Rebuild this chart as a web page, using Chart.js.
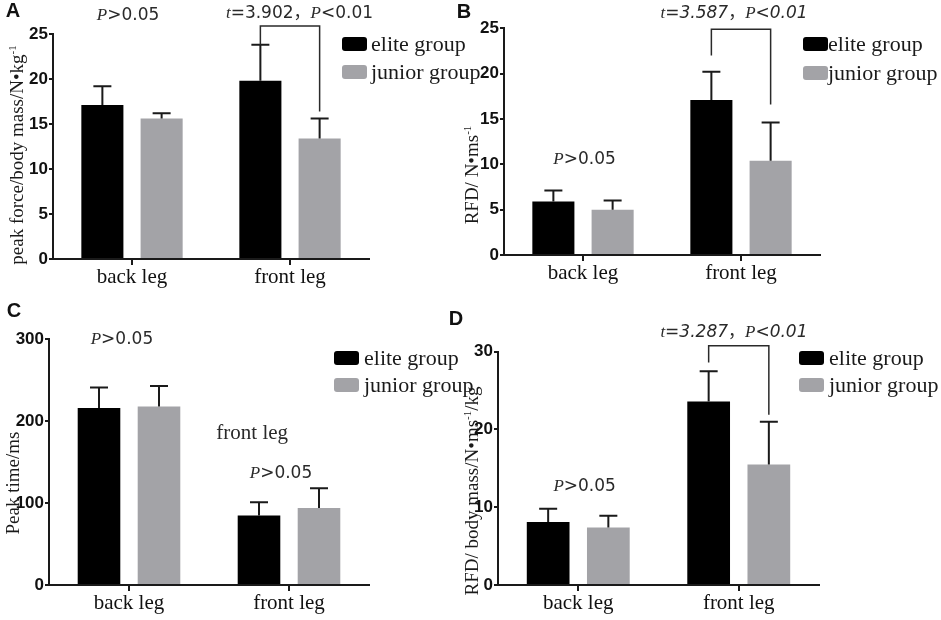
<!DOCTYPE html>
<html lang="en">
<head>
<meta charset="UTF-8">
<title>Elite vs junior group, back and front leg</title>
<script src="https://cdn.jsdelivr.net/npm/chart.js"></script>
<style>
  body { margin: 0; background: #fff; }
  #wrap { position: relative; width: 941px; height: 620px; overflow: hidden; background: #fff; }
  canvas { position: absolute; }
</style>
</head>
<body>
<div id="wrap">
  <canvas id="panelA"></canvas>
  <canvas id="panelB"></canvas>
  <canvas id="panelC"></canvas>
  <canvas id="panelD"></canvas>
</div>
<script>
const legs = ['back leg', 'front leg'];
const groups = ['elite group', 'junior group'];

// A: peak force / body mass
const forceElite = [17.1, 19.8];
const forceEliteSD = [2.1, 4.0];
const forceJunior = [15.6, 13.4];
const forceJuniorSD = [0.6, 2.2];
const forceTicks = [0, 5, 10, 15, 20, 25];

// B: RFD
const rfdElite = [5.9, 17.1];
const rfdEliteSD = [1.2, 3.1];
const rfdJunior = [5.0, 10.4];
const rfdJuniorSD = [1.0, 4.2];
const rfdTicks = [0, 5, 10, 15, 20, 25];

// C: peak time
const timeElite = [216, 85];
const timeEliteSD = [25, 16];
const timeJunior = [218, 94];
const timeJuniorSD = [25, 24];
const timeTicks = [0, 100, 200, 300];

// D: RFD / body mass
const rfdMassElite = [8.1, 23.6];
const rfdMassEliteSD = [1.7, 3.9];
const rfdMassJunior = [7.4, 15.5];
const rfdMassJuniorSD = [1.5, 5.5];
const rfdMassTicks = [0, 10, 20, 30];

const BLACK = '#000000';
const GREY = '#a3a3a7';
const INK = '#1a1a1a';

const FONTS = {
  s: z => `${z}px "Liberation Serif"`,
  i: z => `italic ${z}px "Liberation Serif"`,
  d: z => `${z}px "DejaVu Sans"`,
  di: z => `italic ${z}px "DejaVu Sans"`,
  c: z => `${z}px "Noto Sans CJK SC"`
};

// draws a line made of differently styled pieces, centred on (cx, cy)
function drawRuns(ctx, runs, cx, cy, size) {
  let w = 0;
  const parts = runs.map(([t, k]) => {
    const sup = k === 'sup';
    const z = sup ? Math.round(size * 0.6) : size;
    const font = sup ? FONTS.s(z) : FONTS[k](z);
    ctx.font = font;
    const m = ctx.measureText(t).width;
    w += m;
    return { t, font, m, dy: sup ? -size * 0.4 : 0 };
  });
  let x = cx - w / 2;
  const base = cy + size * 0.33;
  ctx.textAlign = 'left';
  ctx.textBaseline = 'alphabetic';
  parts.forEach(pt => {
    ctx.font = pt.font;
    ctx.fillText(pt.t, x, base + pt.dy);
    x += pt.m;
  });
}

const notSig = [['P', 'i'], ['>0.05', 'd']];

const panels = [
  {
    id: 'A', box: [0, 0, 490, 305], area: [53, 34, 369, 259],
    elite: forceElite, eliteSD: forceEliteSD, junior: forceJunior, juniorSD: forceJuniorSD,
    ticks: forceTicks,
    title: [['peak force/body mass/N•kg', 's'], ['-1', 'sup']], titlePos: [17, 155],
    letter: [13, 11],
    legend: { x: 342, y: 37, gap: 28, textX: 371 },
    bracket: { cat: 1, top: 25.9, left: 23.8, right: 16.4 },
    notes: [
      { x: -0.025, y: 27.2, runs: notSig },
      { x: 1.06, y: 27.4, runs: [['t', 'i'], ['=3.902', 'd'], ['，', 'c'], ['P', 'i'], ['<0.01', 'd']] }
    ]
  },
  {
    id: 'B', box: [445, 0, 496, 305], area: [504, 28.3, 820, 255],
    elite: rfdElite, eliteSD: rfdEliteSD, junior: rfdJunior, juniorSD: rfdJuniorSD,
    ticks: rfdTicks,
    title: [['RFD/ N•ms', 's'], ['-1', 'sup']], titlePos: [472, 175],
    letter: [464, 12],
    legend: { x: 803, y: 37, gap: 29, textX: 828 },
    bracket: { cat: 1, top: 24.9, left: 22, right: 16.6 },
    notes: [
      { x: 0.956, y: 26.7, runs: [['t', 'i'], ['=3.587', 'di'], ['，', 'c'], ['P', 'i'], ['<0.01', 'di']] },
      { x: 0.01, y: 10.7, runs: notSig }
    ]
  },
  {
    id: 'C', box: [0, 295, 490, 325], area: [49, 339.3, 369, 585],
    elite: timeElite, eliteSD: timeEliteSD, junior: timeJunior, juniorSD: timeJuniorSD,
    ticks: timeTicks,
    title: [['Peak time/ms', 's']], titlePos: [13, 483],
    letter: [14, 311],
    legend: { x: 334, y: 351, gap: 27, textX: 364 },
    bracket: null,
    notes: [
      { x: -0.044, y: 301.6, runs: notSig },
      { x: 0.77, y: 186.8, runs: [['front leg', 's']], size: 21 },
      { x: 0.95, y: 138, runs: notSig }
    ]
  },
  {
    id: 'D', box: [440, 300, 501, 320], area: [498, 351.7, 819, 585],
    elite: rfdMassElite, eliteSD: rfdMassEliteSD, junior: rfdMassJunior, juniorSD: rfdMassJuniorSD,
    ticks: rfdMassTicks,
    title: [['RFD/ body mass/N•ms', 's'], ['-1', 'sup'], ['/kg', 's']], titlePos: [472, 491],
    letter: [456, 319],
    legend: { x: 799, y: 351, gap: 27, textX: 829 },
    bracket: { cat: 1, top: 30.75, left: 28.6, right: 21.9 },
    notes: [
      { x: 0.97, y: 32.65, runs: [['t', 'i'], ['=3.287', 'di'], ['，', 'c'], ['P', 'i'], ['<0.01', 'di']] },
      { x: 0.04, y: 12.85, runs: notSig }
    ]
  }
];

function overlay(p) {
  return {
    id: 'overlay' + p.id,
    afterDraw(chart) {
      const ctx = chart.ctx;
      const xs = chart.scales.x, ys = chart.scales.y;
      const ox = p.box[0], oy = p.box[1];
      ctx.save();

      // error bars (mean + SD)
      ctx.strokeStyle = INK;
      ctx.lineWidth = 2;
      [p.eliteSD, p.juniorSD].forEach((sd, di) => {
        chart.getDatasetMeta(di).data.forEach((bar, j) => {
          const v = chart.data.datasets[di].data[j];
          const yt = ys.getPixelForValue(v + sd[j]);
          ctx.beginPath();
          ctx.moveTo(bar.x, bar.y);
          ctx.lineTo(bar.x, yt);
          ctx.moveTo(bar.x - 9, yt);
          ctx.lineTo(bar.x + 9, yt);
          ctx.stroke();
        });
      });

      // significance bracket
      if (p.bracket) {
        const b = p.bracket;
        const x0 = chart.getDatasetMeta(0).data[b.cat].x;
        const x1 = chart.getDatasetMeta(1).data[b.cat].x;
        const yt = ys.getPixelForValue(b.top);
        ctx.lineWidth = 1.5;
        ctx.strokeStyle = '#2a2a2a';
        ctx.beginPath();
        ctx.moveTo(x0, ys.getPixelForValue(b.left));
        ctx.lineTo(x0, yt);
        ctx.lineTo(x1, yt);
        ctx.lineTo(x1, ys.getPixelForValue(b.right));
        ctx.stroke();
      }

      // notes
      ctx.fillStyle = '#2a2a2a';
      p.notes.forEach(n => {
        drawRuns(ctx, n.runs, xs.getPixelForValue(n.x), ys.getPixelForValue(n.y), n.size || 17);
      });

      // legend
      const lg = p.legend;
      [BLACK, GREY].forEach((col, i) => {
        const bx = lg.x - ox, by = lg.y + i * lg.gap - oy;
        ctx.fillStyle = col;
        ctx.beginPath();
        ctx.roundRect(bx, by, 25, 14, 3);
        ctx.fill();
        ctx.fillStyle = INK;
        ctx.font = FONTS.s(22);
        ctx.textAlign = 'left';
        ctx.textBaseline = 'middle';
        ctx.fillText(groups[i], lg.textX - ox, by + 8);
      });

      // y axis title
      ctx.save();
      ctx.translate(p.titlePos[0] - ox, p.titlePos[1] - oy);
      ctx.rotate(-Math.PI / 2);
      ctx.fillStyle = INK;
      drawRuns(ctx, p.title, 0, 0, 19);
      ctx.restore();

      // panel letter
      ctx.fillStyle = '#111';
      ctx.font = 'bold 20px "Liberation Sans"';
      ctx.textAlign = 'center';
      ctx.textBaseline = 'middle';
      ctx.fillText(p.id, p.letter[0] - ox, p.letter[1] - oy);

      ctx.restore();
    }
  };
}

const Y_AXIS_W = 40, X_AXIS_H = 30;

panels.forEach(p => {
  const cv = document.getElementById('panel' + p.id);
  const [bx, by, bw, bh] = p.box;
  cv.style.left = bx + 'px';
  cv.style.top = by + 'px';
  cv.width = bw;
  cv.height = bh;
  const [al, at, ar, ab] = p.area;

  new Chart(cv.getContext('2d'), {
    type: 'bar',
    data: {
      labels: legs,
      datasets: [
        { label: groups[0], data: p.elite, backgroundColor: BLACK, borderWidth: 0 },
        { label: groups[1], data: p.junior, backgroundColor: GREY, borderWidth: 0 }
      ]
    },
    options: {
      responsive: false,
      animation: false,
      devicePixelRatio: 1,
      categoryPercentage: 0.75,
      barPercentage: 0.71,
      layout: {
        padding: {
          left: al - bx - Y_AXIS_W,
          top: at - by,
          right: bx + bw - ar,
          bottom: by + bh - ab - X_AXIS_H
        }
      },
      plugins: { legend: { display: false }, tooltip: { enabled: false } },
      scales: {
        x: {
          afterFit: s => { s.height = X_AXIS_H; },
          grid: { offset: false, drawOnChartArea: false, drawTicks: true, tickLength: 6, color: INK, lineWidth: 2 },
          border: { display: true, color: INK, width: 2 },
          ticks: { color: '#111', font: { family: 'Liberation Serif', size: 21 }, padding: 0, maxRotation: 0 }
        },
        y: {
          min: p.ticks[0],
          max: p.ticks[p.ticks.length - 1],
          afterFit: s => { s.width = Y_AXIS_W; },
          afterBuildTicks: s => { s.ticks = p.ticks.map(v => ({ value: v })); },
          grid: { drawOnChartArea: false, drawTicks: true, tickLength: 4, color: INK, lineWidth: 2 },
          border: { display: true, color: INK, width: 2 },
          ticks: {
            color: '#111',
            padding: 1,
            font: { family: '"Liberation Sans Narrow", "Liberation Sans"', size: 17, weight: 'bold' }
          }
        }
      }
    },
    plugins: [overlay(p)]
  });
});
</script>
</body>
</html>
